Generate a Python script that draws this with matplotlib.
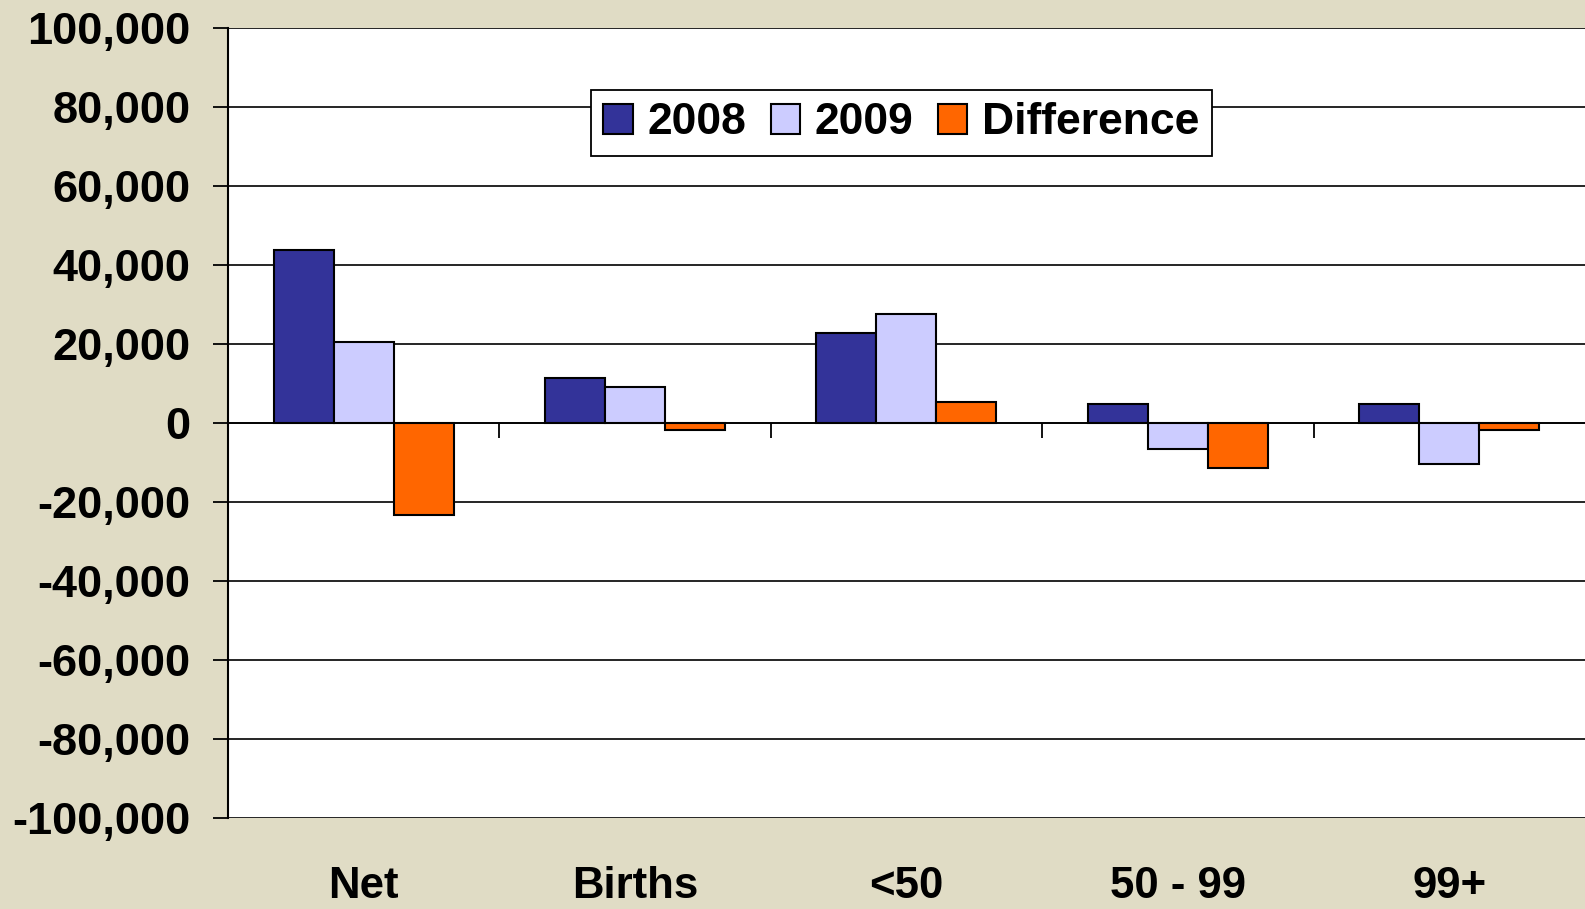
import numpy as np
import matplotlib.pyplot as plt
from matplotlib.ticker import FuncFormatter, FixedLocator

# Job change components, 2008 vs 2009
categories = ['Net', 'Births', '<50', '50 - 99', '99+']
values_2008 = [43800, 11400, 22800, 4900, 4900]
values_2009 = [20500, 9300, 27600, -6500, -10300]
difference = [-23300, -1600, 5400, -11400, -1600]

series_names = ['2008', '2009', 'Difference']
colors = ['#333399', '#CCCCFF', '#FF6600']

plt.rcParams['font.family'] = ['Liberation Sans', 'DejaVu Sans']
plt.rcParams['font.weight'] = 'bold'

fig = plt.figure(figsize=(15.85, 9.09), dpi=100)
fig.patch.set_facecolor('#E0DCC5')
ax = fig.add_axes([0.1438, 0.0998, 0.8562, 0.8691])
ax.set_facecolor('white')

x = np.arange(len(categories))
width = 0.221
for i, (vals, name, col) in enumerate(zip([values_2008, values_2009, difference], series_names, colors)):
    ax.bar(x + (i - 1) * width, vals, width, color=col, edgecolor='black',
           linewidth=1.5, label=name, zorder=3)

ax.set_xlim(-0.5, len(categories) - 0.5)
ax.set_ylim(-100000, 100000)
ax.set_yticks(np.arange(-100000, 100001, 20000))
ax.yaxis.set_major_formatter(FuncFormatter(lambda v, p: f'{v:,.0f}'))
ax.tick_params(axis='y', direction='out', length=11, width=1.3, pad=16,
               labelsize=32.5, colors='black')
ax.grid(axis='y', color='black', linewidth=1.2, zorder=1)

# x axis sits on zero, ticks mark the boundaries between groups
ax.spines['bottom'].set_position(('data', 0))
ax.spines['bottom'].set_linewidth(1.2)
ax.spines['bottom'].set_zorder(4)
ax.xaxis.set_major_locator(FixedLocator(x[:-1] + 0.5))
ax.tick_params(axis='x', direction='out', length=11, width=1.3, labelbottom=False)
ax.spines['top'].set_visible(False)
ax.spines['right'].set_visible(False)
ax.spines['left'].set_linewidth(1.5)

trans = ax.get_xaxis_transform()
for xi, name in zip(x, categories):
    ax.text(xi, -0.101, name, transform=trans, ha='center', va='baseline',
            fontsize=31.5, fontweight='bold', clip_on=False)

leg = ax.legend(ncol=3, loc='upper left', bbox_to_anchor=(591 / 1585, 1 - 90 / 909),
                bbox_transform=fig.transFigure, fontsize=32, frameon=True,
                fancybox=False, edgecolor='black', framealpha=1,
                handlelength=0.66, handleheight=0.65, handletextpad=0.33,
                columnspacing=0.55, borderpad=0.28, borderaxespad=0)
leg.get_frame().set_linewidth(1.3)
leg.set_zorder(5)

fig.savefig('out.png', dpi=100, facecolor=fig.get_facecolor())
